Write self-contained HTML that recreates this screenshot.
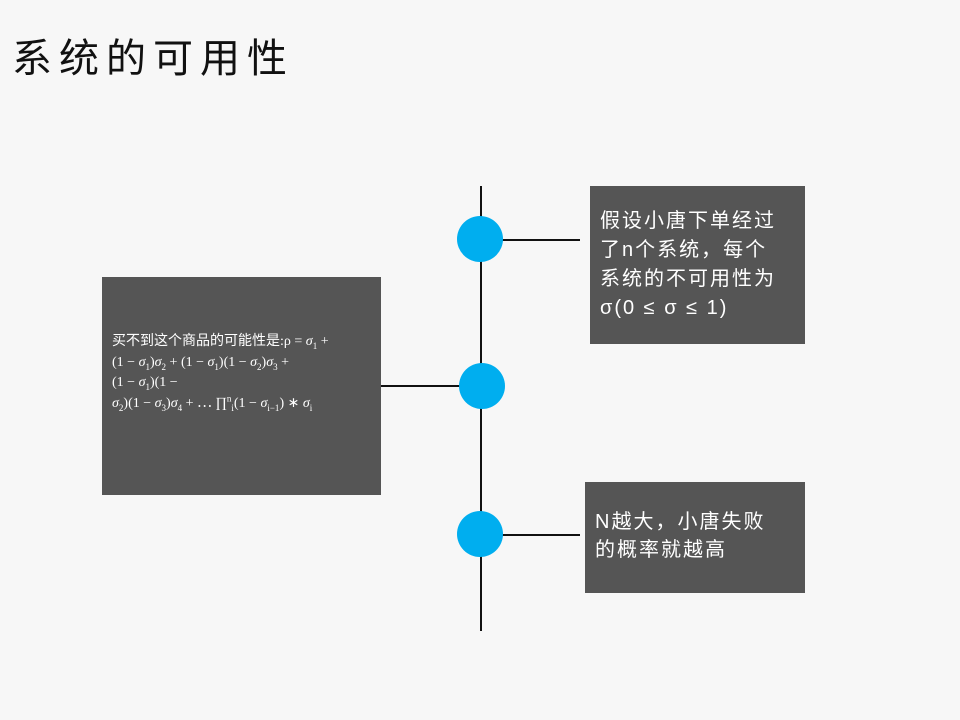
<!DOCTYPE html>
<html><head><meta charset="utf-8"><style>
body{margin:0;width:960px;height:720px;background:#f7f7f7;position:relative;overflow:hidden;font-family:"Liberation Sans","Noto Sans CJK SC",sans-serif;}
.t{position:absolute;left:12px;top:26px;font-size:40px;color:#111;letter-spacing:7px;}
.box{position:absolute;background:#555;color:#fff;box-sizing:border-box;white-space:nowrap;}
.l{position:absolute;background:#111;}
.c{position:absolute;width:46px;height:46px;border-radius:50%;background:#00aeef;}
sub,sup{font-size:9px;line-height:0}
</style></head><body>
<div class="t">系统的可用性</div>
<div class="l" style="left:480px;top:186px;width:1.5px;height:445px"></div>
<div class="l" style="left:500px;top:239px;width:80px;height:1.5px"></div>
<div class="l" style="left:380px;top:385px;width:82px;height:1.5px"></div>
<div class="l" style="left:500px;top:534px;width:80px;height:1.5px"></div>
<div class="c" style="left:457px;top:216px"></div>
<div class="c" style="left:459px;top:363px"></div>
<div class="c" style="left:457px;top:511px"></div>
<div class="box" style="left:590px;top:186px;width:215px;height:158px;padding:21px 10px;font-size:20px;line-height:29px;letter-spacing:2px">假设小唐下单经过<br>了n个系统，每个<br>系统的不可用性为<br>σ(0 ≤ σ ≤ 1)</div>
<div class="box" style="left:102px;top:277px;width:279px;height:218px;padding:55px 10px 0 10px;font-size:14px;line-height:20.5px;font-family:'Liberation Serif','Noto Sans CJK SC',serif">买不到这个商品的可能性是:ρ = <i>σ</i><sub>1</sub> +<br>(1 − <i>σ</i><sub>1</sub>)<i>σ</i><sub>2</sub> + (1 − <i>σ</i><sub>1</sub>)(1 − <i>σ</i><sub>2</sub>)<i>σ</i><sub>3</sub> +<br>(1 − <i>σ</i><sub>1</sub>)(1 −<br><i>σ</i><sub>2</sub>)(1 − <i>σ</i><sub>3</sub>)<i>σ</i><sub>4</sub> + ⋯ ∏<sup>n</sup><sub>i</sub>(1 − <i>σ</i><sub>i−1</sub>) ∗ <i>σ</i><sub>i</sub></div>
<div class="box" style="left:585px;top:482px;width:220px;height:111px;padding:26px 10px;font-size:20px;line-height:28px;letter-spacing:2px">N越大，小唐失败<br>的概率就越高</div>
</body></html>
